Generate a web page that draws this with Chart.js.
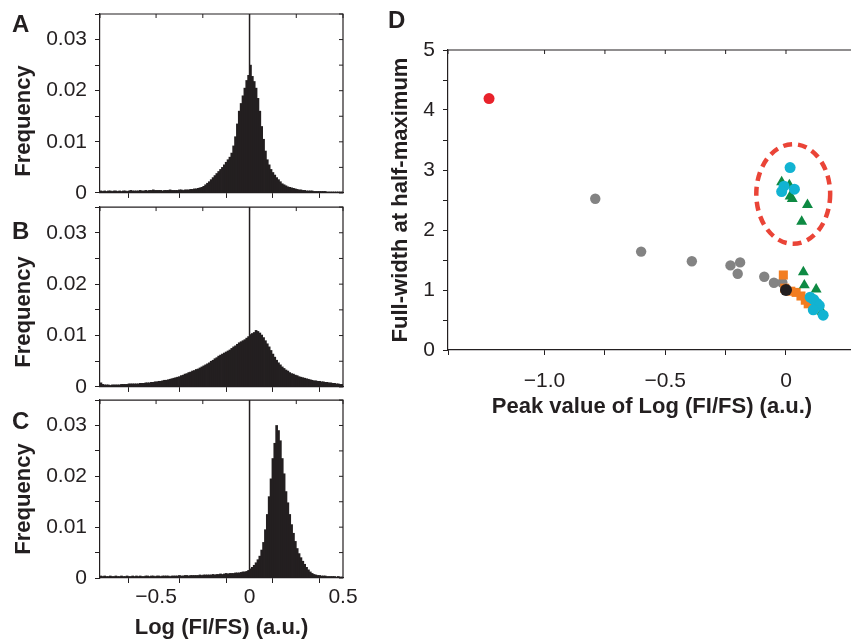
<!DOCTYPE html>
<html lang="en">
<head>
<meta charset="UTF-8">
<title>Log (FI/FS) histograms and peak widths</title>
<script src="https://cdn.jsdelivr.net/npm/chart.js"></script>
<style>
    body {
        margin: 0;
        width: 851px;
        height: 641px;
        overflow: hidden;
        position: relative;
        background: #fff;
        font-family: "Liberation Sans", Arial, sans-serif;
        color: #231f20;
    }
    canvas { position: absolute; }
    .letter { position: absolute; font-weight: bold; font-size: 24px; line-height: 24px; }
    .ylab {
        position: absolute;
        font-weight: bold;
        font-size: 22px;
        white-space: nowrap;
        transform: translate(-50%, -50%) rotate(-90deg);
    }
</style>
</head>
<body>
<canvas id="histA" width="360" height="202" style="left:0;top:0"></canvas>
<canvas id="histB" width="360" height="198" style="left:0;top:198px"></canvas>
<canvas id="histC" width="360" height="250" style="left:0;top:391px"></canvas>
<canvas id="scatterD" width="490" height="430" style="left:380px;top:0"></canvas>

<div class="letter" style="left:12px;top:12px">A</div>
<div class="letter" style="left:12px;top:219px">B</div>
<div class="letter" style="left:12px;top:409px">C</div>
<div class="letter" style="left:388px;top:8px">D</div>
<div class="ylab" style="left:23px;top:121px">Frequency</div>
<div class="ylab" style="left:23px;top:312px">Frequency</div>
<div class="ylab" style="left:23px;top:499px">Frequency</div>

<script>
    // histogram bins: 0.01 wide, from -0.80 to 0.50
    const binStart = -0.8;
    const binWidth = 0.01;

    const histA = [
        0.0004,0.0003,0.0004,0.0003,0.0004,0.0004,0.0003,0.0004,0.0004,0.0003,
        0.0004,0.0003,0.0004,0.0004,0.0003,0.0004,0.0005,0.0004,0.0004,0.0004,
        0.0004,0.0005,0.0004,0.0004,0.0005,0.0004,0.0005,0.0005,0.0006,0.0005,
        0.0005,0.0005,0.0005,0.0004,0.0005,0.0005,0.0005,0.0006,0.0005,0.0005,
        0.0005,0.0005,0.0006,0.0006,0.0005,0.0006,0.0006,0.0006,0.0007,0.0007,
        0.0008,0.0008,0.0009,0.0010,0.0011,0.0013,0.0016,0.0019,0.0022,0.0026,
        0.0030,0.0034,0.0038,0.0042,0.0046,0.0050,0.0055,0.0060,0.0065,0.0070,
        0.0078,0.0092,0.0110,0.0135,0.0160,0.0175,0.0190,0.0205,0.0220,0.0230,
        0.0250,0.0228,0.0218,0.0205,0.0185,0.0160,0.0130,0.0105,0.0082,0.0065,
        0.0055,0.0046,0.0040,0.0035,0.0030,0.0026,0.0022,0.0018,0.0016,0.0014,
        0.0012,0.0011,0.0010,0.0009,0.0008,0.0007,0.0006,0.0006,0.0005,0.0005,
        0.0004,0.0004,0.0004,0.0004,0.0003,0.0003,0.0003,0.0003,0.0003,0.0003,
        0.0003,0.0002,0.0002,0.0002,0.0002,0.0002,0.0002,0.0002,0.0002,0.0002
    ];
    const histB = [
        0.0008,0.0005,0.0004,0.0004,0.0004,0.0003,0.0004,0.0004,0.0004,0.0004,
        0.0004,0.0005,0.0005,0.0005,0.0005,0.0006,0.0006,0.0006,0.0006,0.0006,
        0.0006,0.0007,0.0007,0.0007,0.0008,0.0008,0.0008,0.0009,0.0009,0.0010,
        0.0010,0.0011,0.0011,0.0012,0.0013,0.0013,0.0014,0.0015,0.0016,0.0017,
        0.0018,0.0019,0.0020,0.0022,0.0023,0.0025,0.0026,0.0028,0.0029,0.0031,
        0.0032,0.0034,0.0035,0.0037,0.0039,0.0041,0.0043,0.0045,0.0047,0.0050,
        0.0052,0.0055,0.0057,0.0060,0.0062,0.0064,0.0066,0.0068,0.0070,0.0072,
        0.0075,0.0078,0.0080,0.0083,0.0086,0.0088,0.0090,0.0092,0.0095,0.0098,
        0.0102,0.0104,0.0106,0.0110,0.0108,0.0105,0.0101,0.0096,0.0090,0.0084,
        0.0078,0.0071,0.0064,0.0058,0.0052,0.0047,0.0043,0.0039,0.0036,0.0033,
        0.0031,0.0028,0.0026,0.0025,0.0023,0.0022,0.0020,0.0019,0.0018,0.0017,
        0.0016,0.0015,0.0014,0.0013,0.0012,0.0012,0.0011,0.0011,0.0010,0.0010,
        0.0009,0.0009,0.0008,0.0008,0.0007,0.0007,0.0006,0.0006,0.0005,0.0005
    ];
    const histC = [
        0.0004,0.0003,0.0004,0.0003,0.0003,0.0004,0.0003,0.0003,0.0004,0.0003,
        0.0003,0.0004,0.0003,0.0003,0.0004,0.0003,0.0003,0.0004,0.0003,0.0004,
        0.0003,0.0004,0.0003,0.0003,0.0004,0.0004,0.0003,0.0004,0.0004,0.0003,
        0.0004,0.0004,0.0003,0.0004,0.0004,0.0004,0.0004,0.0003,0.0004,0.0004,
        0.0004,0.0004,0.0005,0.0004,0.0004,0.0005,0.0005,0.0004,0.0005,0.0005,
        0.0005,0.0005,0.0005,0.0006,0.0005,0.0006,0.0006,0.0006,0.0006,0.0006,
        0.0007,0.0006,0.0007,0.0007,0.0008,0.0007,0.0008,0.0009,0.0008,0.0009,
        0.0009,0.0009,0.0010,0.0010,0.0010,0.0011,0.0012,0.0012,0.0013,0.0015,
        0.0018,0.0021,0.0025,0.0030,0.0036,0.0043,0.0055,0.0070,0.0095,0.0125,
        0.0160,0.0195,0.0235,0.0265,0.0300,0.0290,0.0270,0.0235,0.0205,0.0170,
        0.0148,0.0125,0.0105,0.0088,0.0072,0.0058,0.0048,0.0040,0.0033,0.0027,
        0.0021,0.0016,0.0012,0.0009,0.0007,0.0006,0.0005,0.0005,0.0004,0.0004,
        0.0004,0.0003,0.0003,0.0003,0.0003,0.0003,0.0002,0.0003,0.0002,0.0002
    ];
    const zeroLine = [{ x: 0, y: 0 }, { x: 0, y: 0.035 }];

    // panel D: peak position vs full-width at half-maximum
    const greyX = [-0.79, -0.60, -0.39, -0.23, -0.19, -0.20, -0.09, -0.05, -0.015];
    const greyY = [2.52, 1.64, 1.48, 1.41, 1.46, 1.27, 1.22, 1.12, 1.12];
    const redX = [-1.23];
    const redY = [4.19];
    const blackX = [0.0];
    const blackY = [1.0];
    const orangeX = [-0.011, -0.005, 0.020, 0.042, 0.062, 0.080, 0.092];
    const orangeY = [1.25, 1.03, 0.98, 0.96, 0.90, 0.83, 0.77];
    const cyanX = [0.017, -0.008, -0.018, 0.035, 0.10, 0.115, 0.128, 0.138, 0.113, 0.154];
    const cyanY = [3.04, 2.73, 2.64, 2.68, 0.88, 0.84, 0.78, 0.74, 0.67, 0.58];
    const greenX = [-0.018, 0.014, 0.017, 0.026, 0.089, 0.065, 0.072, 0.076, 0.125, 0.149];
    const greenY = [2.80, 2.75, 2.56, 2.52, 2.42, 2.14, 1.30, 1.08, 1.01, 0.64];
    // dashed ring around the upper cluster (centre and half-axes in data units)
    const ringCenter = [0.03, 2.6];
    const ringRadii = [0.153, 0.83];

    const ink = '#231f20';
    Chart.defaults.font.family = '"Liberation Sans", Arial, sans-serif';
    Chart.defaults.font.size = 21;
    Chart.defaults.color = ink;

    const toXY = (xs, ys) => xs.map((x, i) => ({ x: x, y: ys[i] }));
    const fmt = v => (v === 0 ? '0' : (v < 0 ? '\u2212' : '') + Math.abs(v).toFixed(1));
    const isMultiple = (v, step) => Math.abs(v / step - Math.round(v / step)) < 1e-6;

    // top / right frame lines with inward ticks
    const frame = {
        id: 'frame',
        afterDraw(chart, args, opts) {
            const { ctx, chartArea: a, scales } = chart;
            ctx.save();
            ctx.strokeStyle = ink;
            ctx.lineWidth = 1.2;
            ctx.beginPath();
            if (opts.top) { ctx.moveTo(a.left, a.top); ctx.lineTo(a.right + 0.6, a.top); }
            if (opts.right) { ctx.moveTo(a.right, a.top); ctx.lineTo(a.right, a.bottom); }
            ctx.stroke();
            ctx.lineWidth = 1;
            ctx.beginPath();
            if (opts.top) {
                scales.x.ticks.forEach(t => {
                    const px = scales.x.getPixelForValue(t.value);
                    ctx.moveTo(px, a.top); ctx.lineTo(px, a.top + 4);
                });
            }
            if (opts.right) {
                scales.y.ticks.forEach(t => {
                    const py = scales.y.getPixelForValue(t.value);
                    ctx.moveTo(a.right, py); ctx.lineTo(a.right - 4, py);
                });
            }
            ctx.stroke();
            ctx.restore();
        }
    };

    const ring = {
        id: 'ring',
        afterDatasetsDraw(chart) {
            const { ctx, scales: { x, y } } = chart;
            const cx = x.getPixelForValue(ringCenter[0]);
            const cy = y.getPixelForValue(ringCenter[1]);
            const rx = Math.abs(x.getPixelForValue(ringCenter[0] + ringRadii[0]) - cx);
            const ry = Math.abs(y.getPixelForValue(ringCenter[1] + ringRadii[1]) - cy);
            ctx.save();
            ctx.strokeStyle = '#ea4437';
            ctx.lineWidth = 4.5;
            ctx.setLineDash([9, 6]);
            ctx.beginPath();
            ctx.ellipse(cx, cy, rx, ry, 0, 0, 2 * Math.PI);
            ctx.stroke();
            ctx.restore();
        }
    };

    const axisGrid = { drawOnChartArea: false, drawTicks: true, tickLength: 5, color: ink, tickColor: ink };
    const axisBorder = { display: true, color: ink, width: 1.2 };

    function createHist(id, values, padTop, xHeight, withLabels) {
        const bars = values.map((v, i) => ({ x: binStart + binWidth * (i + 0.5), y: v }));
        return new Chart(document.getElementById(id), {
            type: 'bar',
            data: {
                datasets: [
                    { type: 'line', data: zeroLine, borderColor: ink, borderWidth: 1.5, pointRadius: 0 },
                    { data: bars, backgroundColor: ink, borderWidth: 0, barThickness: 2 }
                ]
            },
            options: {
                responsive: false,
                animation: false,
                layout: { autoPadding: false, padding: { top: padTop, right: 17, left: 0, bottom: 0 } },
                plugins: {
                    legend: { display: false },
                    tooltip: { enabled: false },
                    frame: { top: true, right: true }
                },
                scales: {
                    x: {
                        type: 'linear',
                        min: -0.8,
                        max: 0.5,
                        offset: false,
                        grid: axisGrid,
                        border: axisBorder,
                        ticks: {
                            stepSize: 0.25,
                            padding: 2,
                            maxRotation: 0,
                            autoSkip: false,
                            callback: v => (withLabels && isMultiple(v, 0.5) ? fmt(v) : '')
                        },
                        title: {
                            display: withLabels,
                            text: 'Log (FI/FS) (a.u.)',
                            font: { size: 22, weight: 'bold' },
                            padding: { top: 0, bottom: 0 }
                        },
                        afterFit: s => { s.height = xHeight; }
                    },
                    y: {
                        min: 0,
                        max: 0.035,
                        grid: axisGrid,
                        border: axisBorder,
                        ticks: {
                            stepSize: 0.005,
                            padding: 8,
                            autoSkip: false,
                            // small line height keeps the end labels from padding the plot
                            font: { lineHeight: 0.1 },
                            callback: v => (v === 0 ? '0' : isMultiple(v, 0.01) ? v.toFixed(2) : '')
                        },
                        afterFit: s => { s.width = 100; }
                    }
                }
            },
            plugins: [frame]
        });
    }

    createHist('histA', histA, 14, 7, false);
    createHist('histB', histB, 7, 8, false);
    createHist('histC', histC, 9, 63, true);

    new Chart(document.getElementById('scatterD'), {
        type: 'scatter',
        data: {
            datasets: [
                { data: toXY(blackX, blackY), backgroundColor: ink, pointRadius: 6, pointStyle: 'circle' },
                { data: toXY(cyanX, cyanY), backgroundColor: '#12b3d2', pointRadius: 5.5, pointStyle: 'circle' },
                { data: toXY(greenX, greenY), backgroundColor: '#0e8a43', pointRadius: 6.3, pointStyle: 'triangle' },
                { data: toXY(orangeX, orangeY), backgroundColor: '#f27d21', pointRadius: 6.4, pointStyle: 'rect' },
                { data: toXY(greyX, greyY), backgroundColor: '#838383', pointRadius: 5.2, pointStyle: 'circle' },
                { data: toXY(redX, redY), backgroundColor: '#e8222b', pointRadius: 5.5, pointStyle: 'circle' }
            ]
        },
        options: {
            responsive: false,
            animation: false,
            elements: { point: { borderWidth: 0, hoverRadius: 0 } },
            layout: { padding: { top: 50, right: 12, left: 0, bottom: 0 } },
            plugins: {
                legend: { display: false },
                tooltip: { enabled: false },
                frame: { top: true, right: false }
            },
            scales: {
                x: {
                    type: 'linear',
                    min: -1.4,
                    max: 0.29,
                    grid: axisGrid,
                    border: axisBorder,
                    ticks: {
                        stepSize: 0.25,
                        padding: 14,
                        maxRotation: 0,
                        autoSkip: false,
                        callback: v => (isMultiple(v, 0.5) ? fmt(v) : '')
                    },
                    title: {
                        display: true,
                        text: 'Peak value of Log (FI/FS) (a.u.)',
                        font: { size: 22, weight: 'bold' },
                        padding: { top: 0, bottom: 10 }
                    },
                    afterFit: s => { s.height = 80; }
                },
                y: {
                    min: 0,
                    max: 5,
                    grid: axisGrid,
                    border: axisBorder,
                    ticks: {
                        stepSize: 0.5,
                        padding: 8,
                        autoSkip: false,
                        callback: v => (isMultiple(v, 1) ? String(v) : '')
                    },
                    title: {
                        display: true,
                        text: 'Full-width at half-maximum',
                        font: { size: 22, weight: 'bold' },
                        padding: { top: 8, bottom: 0 }
                    },
                    afterFit: s => { s.width = 68; }
                }
            }
        },
        plugins: [frame, ring]
    });
</script>
</body>
</html>
